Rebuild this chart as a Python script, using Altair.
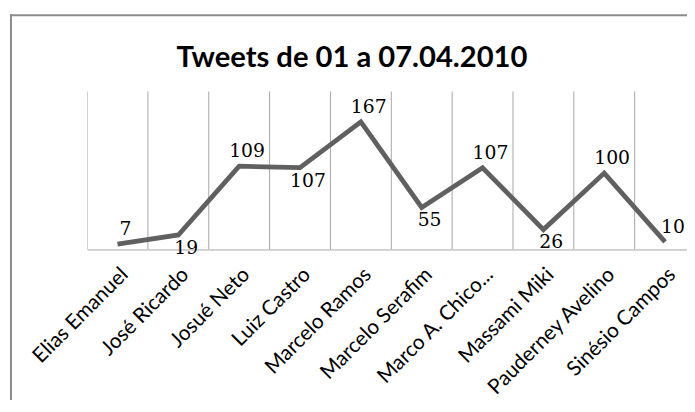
import json
import altair as alt
import pandas as pd

# ---- data ----
names = [
    "Elias Emanuel", "José Ricardo", "Josué Neto", "Luiz Castro",
    "Marcelo Ramos", "Marcelo Serafim", "Marco A. Chico...", "Massami Miki",
    "Pauderney Avelino", "Sinésio Campos",
]
tweets = [7, 19, 109, 107, 167, 55, 107, 26, 100, 10]
title_text = "Tweets de 01 a 07.04.2010"

df = pd.DataFrame({"i": list(range(len(names))), "name": names, "tweets": tweets})
bounds = pd.DataFrame({"b": [k - 0.5 for k in range(len(names) + 1)]})

W, H = 607, 160
band = 61.56
xmax = -0.5 + W / band
xscale = alt.Scale(domain=[-0.5, xmax], nice=False, zero=False)
yscale = alt.Scale(domain=[0, 207], nice=False, zero=True)

label_expr = json.dumps(names, ensure_ascii=False) + "[datum.value]"

xaxis = alt.Axis(
    values=list(range(len(names))), labelExpr=label_expr,
    labelAngle=-45, labelAlign="right", labelBaseline="middle",
    labelFont="Lato", labelFontSize=21, labelColor="#000000",
    labelPadding=22, labelOffset=7, labelOverlap=False, labelFlush=False,
    labelBound=False, ticks=False, grid=False,
    domainColor="#a6a6a6", domainWidth=1, title=None,
)

# outer chart frame (only its top and left edges fall inside the picture)
frame_src = alt.Chart(alt.Data(values=[{}]))
frame_top = frame_src.mark_rule(color="#8c8c8c", strokeWidth=2).encode(
    x=alt.value(-78), x2=alt.value(W + 20), y=alt.value(-77)
)
frame_left = frame_src.mark_rule(color="#8c8c8c", strokeWidth=2).encode(
    x=alt.value(-77), y=alt.value(-78), y2=alt.value(H + 200)
)

grid = alt.Chart(bounds).mark_rule(color="#a6a6a6", strokeWidth=1, clip=True).encode(
    x=alt.X("b:Q", scale=xscale, axis=xaxis),
    y=alt.value(0), y2=alt.value(H),
)

base = alt.Chart(df)

line = base.mark_line(color="#606060", strokeWidth=4.8).encode(
    x=alt.X("i:Q", scale=xscale, axis=xaxis),
    y=alt.Y("tweets:Q", scale=yscale, axis=None),
)

lab_common = dict(font="DejaVu Serif", fontSize=19, color="#000000", dx=8, align="center")
above = base.transform_calculate(
    up="datum.i % 2 == 0 || datum.i == 9"
).transform_filter("datum.up").mark_text(baseline="bottom", dy=-5, **lab_common).encode(
    x=alt.X("i:Q", scale=xscale, axis=xaxis),
    y=alt.Y("tweets:Q", scale=yscale, axis=None),
    text="tweets:Q",
)
below = base.transform_calculate(
    up="datum.i % 2 == 0 || datum.i == 9"
).transform_filter("!datum.up").mark_text(baseline="top", dy=4, **lab_common).encode(
    x=alt.X("i:Q", scale=xscale, axis=xaxis),
    y=alt.Y("tweets:Q", scale=yscale, axis=None),
    text="tweets:Q",
)

title = alt.Chart(alt.Data(values=[{"t": title_text}])).mark_text(
    font="Lato", fontSize=29.5, fontWeight="bold", color="#000000",
    align="center", baseline="alphabetic",
).encode(x=alt.value(356 - 88), y=alt.value(65 - 90), text="t:N")

chart = alt.layer(frame_top, frame_left, grid, line, above, below, title).properties(
    width=W, height=H,
    padding={"left": 80, "top": 82, "right": 0, "bottom": 150},
    autosize=alt.AutoSizeParams(type="none"),
    background="white",
).configure_view(stroke=None)

chart.save("out.html", embed_options={"renderer": "svg", "actions": False})
